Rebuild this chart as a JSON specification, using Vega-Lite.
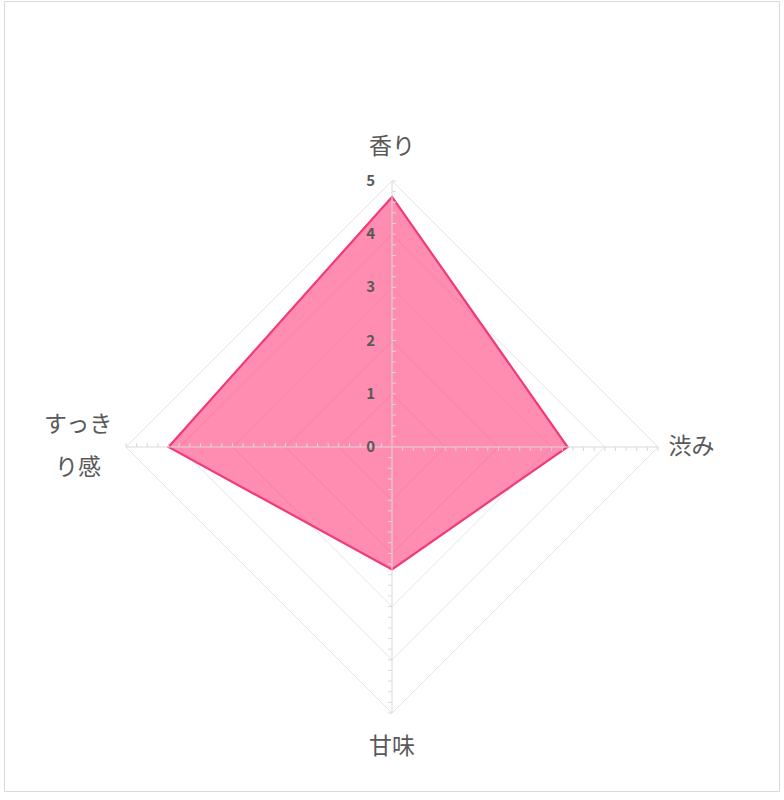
{
  "$schema": "https://vega.github.io/schema/vega-lite/v6.json",
  "width": 775,
  "height": 790,
  "autosize": {"type": "none"},
  "padding": {"left": 4, "top": 1, "right": 5, "bottom": 9},
  "background": "#ffffff",
  "datasets": {
    "taste": [
      {"axis": "香り", "k": 0, "value": 4.7},
      {"axis": "渋み", "k": 1, "value": 3.3},
      {"axis": "甘味", "k": 2, "value": 2.3},
      {"axis": "すっきり感", "k": 3, "value": 4.2}
    ],
    "grid": [
      {"level": 1, "k": 0}, {"level": 1, "k": 1}, {"level": 1, "k": 2}, {"level": 1, "k": 3},
      {"level": 2, "k": 0}, {"level": 2, "k": 1}, {"level": 2, "k": 2}, {"level": 2, "k": 3},
      {"level": 3, "k": 0}, {"level": 3, "k": 1}, {"level": 3, "k": 2}, {"level": 3, "k": 3},
      {"level": 4, "k": 0}, {"level": 4, "k": 1}, {"level": 4, "k": 2}, {"level": 4, "k": 3},
      {"level": 5, "k": 0}, {"level": 5, "k": 1}, {"level": 5, "k": 2}, {"level": 5, "k": 3}
    ],
    "ticks": [
      {"t": 0.2}, {"t": 0.4}, {"t": 0.6}, {"t": 0.8}, {"t": 1.0},
      {"t": 1.2}, {"t": 1.4}, {"t": 1.6}, {"t": 1.8}, {"t": 2.0},
      {"t": 2.2}, {"t": 2.4}, {"t": 2.6}, {"t": 2.8}, {"t": 3.0},
      {"t": 3.2}, {"t": 3.4}, {"t": 3.6}, {"t": 3.8}, {"t": 4.0},
      {"t": 4.2}, {"t": 4.4}, {"t": 4.6}, {"t": 4.8}, {"t": 5.0}
    ],
    "scale": [
      {"v": 0}, {"v": 1}, {"v": 2}, {"v": 3}, {"v": 4}, {"v": 5}
    ]
  },
  "layer": [
    {
      "data": {"name": "grid"},
      "transform": [
        {"calculate": "datum.level * sin(datum.k * PI / 2)", "as": "gx"},
        {"calculate": "datum.level * cos(datum.k * PI / 2)", "as": "gy"}
      ],
      "mark": {"type": "line", "interpolate": "linear-closed", "stroke": "#e4e4e4", "strokeWidth": 1},
      "encoding": {
        "x": {"field": "gx", "type": "quantitative", "axis": null,
              "scale": {"domain": [-7.293, 7.274], "nice": false, "zero": false}},
        "y": {"field": "gy", "type": "quantitative", "axis": null,
              "scale": {"domain": [-6.466, 8.383], "nice": false, "zero": false}},
        "detail": {"field": "level", "type": "nominal"},
        "order": {"field": "k", "type": "quantitative"}
      }
    },
    {
      "data": {"name": "taste"},
      "transform": [
        {"calculate": "datum.value * sin(datum.k * PI / 2)", "as": "px"},
        {"calculate": "datum.value * cos(datum.k * PI / 2)", "as": "py"}
      ],
      "mark": {"type": "line", "interpolate": "linear-closed", "fill": "#ff3a78", "fillOpacity": 0.58,
               "stroke": "#f2397a", "strokeWidth": 2.2},
      "encoding": {
        "x": {"field": "px", "type": "quantitative", "axis": null},
        "y": {"field": "py", "type": "quantitative", "axis": null},
        "order": {"field": "k", "type": "quantitative"}
      }
    },
    {
      "data": {"values": [{}]},
      "mark": {"type": "rule", "stroke": "#d9d9d9", "strokeWidth": 1},
      "encoding": {
        "x": {"datum": 0, "type": "quantitative", "axis": null},
        "y": {"datum": -5, "type": "quantitative", "axis": null},
        "y2": {"datum": 5}
      }
    },
    {
      "data": {"values": [{}]},
      "mark": {"type": "rule", "stroke": "#d9d9d9", "strokeWidth": 1},
      "encoding": {
        "y": {"datum": 0, "type": "quantitative", "axis": null},
        "x": {"datum": -5, "type": "quantitative", "axis": null},
        "x2": {"datum": 5}
      }
    },
    {
      "data": {"name": "ticks"},
      "mark": {"type": "rule", "stroke": "#d9d9d9", "strokeWidth": 1},
      "encoding": {
        "y": {"field": "t", "type": "quantitative", "axis": null},
        "x": {"datum": 0, "type": "quantitative", "axis": null},
        "x2": {"datum": 0.075}
      }
    },
    {
      "data": {"name": "ticks"},
      "mark": {"type": "rule", "stroke": "#d9d9d9", "strokeWidth": 1},
      "encoding": {
        "x": {"field": "t", "type": "quantitative", "axis": null},
        "y": {"datum": 0, "type": "quantitative", "axis": null},
        "y2": {"datum": -0.075}
      }
    },
    {
      "data": {"name": "ticks"},
      "transform": [{"calculate": "-datum.t", "as": "nt"}],
      "mark": {"type": "rule", "stroke": "#d9d9d9", "strokeWidth": 1},
      "encoding": {
        "y": {"field": "nt", "type": "quantitative", "axis": null},
        "x": {"datum": 0, "type": "quantitative", "axis": null},
        "x2": {"datum": -0.075}
      }
    },
    {
      "data": {"name": "ticks"},
      "transform": [{"calculate": "-datum.t", "as": "nt"}],
      "mark": {"type": "rule", "stroke": "#d9d9d9", "strokeWidth": 1},
      "encoding": {
        "x": {"field": "nt", "type": "quantitative", "axis": null},
        "y": {"datum": 0, "type": "quantitative", "axis": null},
        "y2": {"datum": 0.075}
      }
    },
    {
      "data": {"name": "scale"},
      "mark": {"type": "text", "align": "right", "baseline": "middle", "dx": -17,
               "font": "Noto Sans CJK JP", "fontSize": 15, "fontWeight": "bold", "fill": "#595959"},
      "encoding": {
        "x": {"datum": 0, "type": "quantitative", "axis": null},
        "y": {"field": "v", "type": "quantitative", "axis": null},
        "text": {"field": "v", "type": "quantitative"}
      }
    },
    {
      "data": {"name": "taste"},
      "transform": [
        {"calculate": "datum.k == 3 ? 5.9 : 5.63", "as": "r"},
        {"calculate": "datum.r * sin(datum.k * PI / 2)", "as": "lx"},
        {"calculate": "datum.r * cos(datum.k * PI / 2) + (datum.k == 3 ? 0.42 : 0)", "as": "ly"},
        {"calculate": "length(datum.axis) > 4 ? [substring(datum.axis, 0, 3), substring(datum.axis, 3)] : datum.axis", "as": "label"}
      ],
      "mark": {"type": "text", "align": "center", "baseline": "middle", "lineHeight": 43,
               "font": "Noto Sans CJK JP", "fontSize": 23, "fill": "#595959"},
      "encoding": {
        "x": {"field": "lx", "type": "quantitative", "axis": null},
        "y": {"field": "ly", "type": "quantitative", "axis": null},
        "text": {"field": "label", "type": "nominal"}
      }
    }
  ],
  "config": {
    "view": {"stroke": "#d9d9d9", "strokeWidth": 1}
  }
}
